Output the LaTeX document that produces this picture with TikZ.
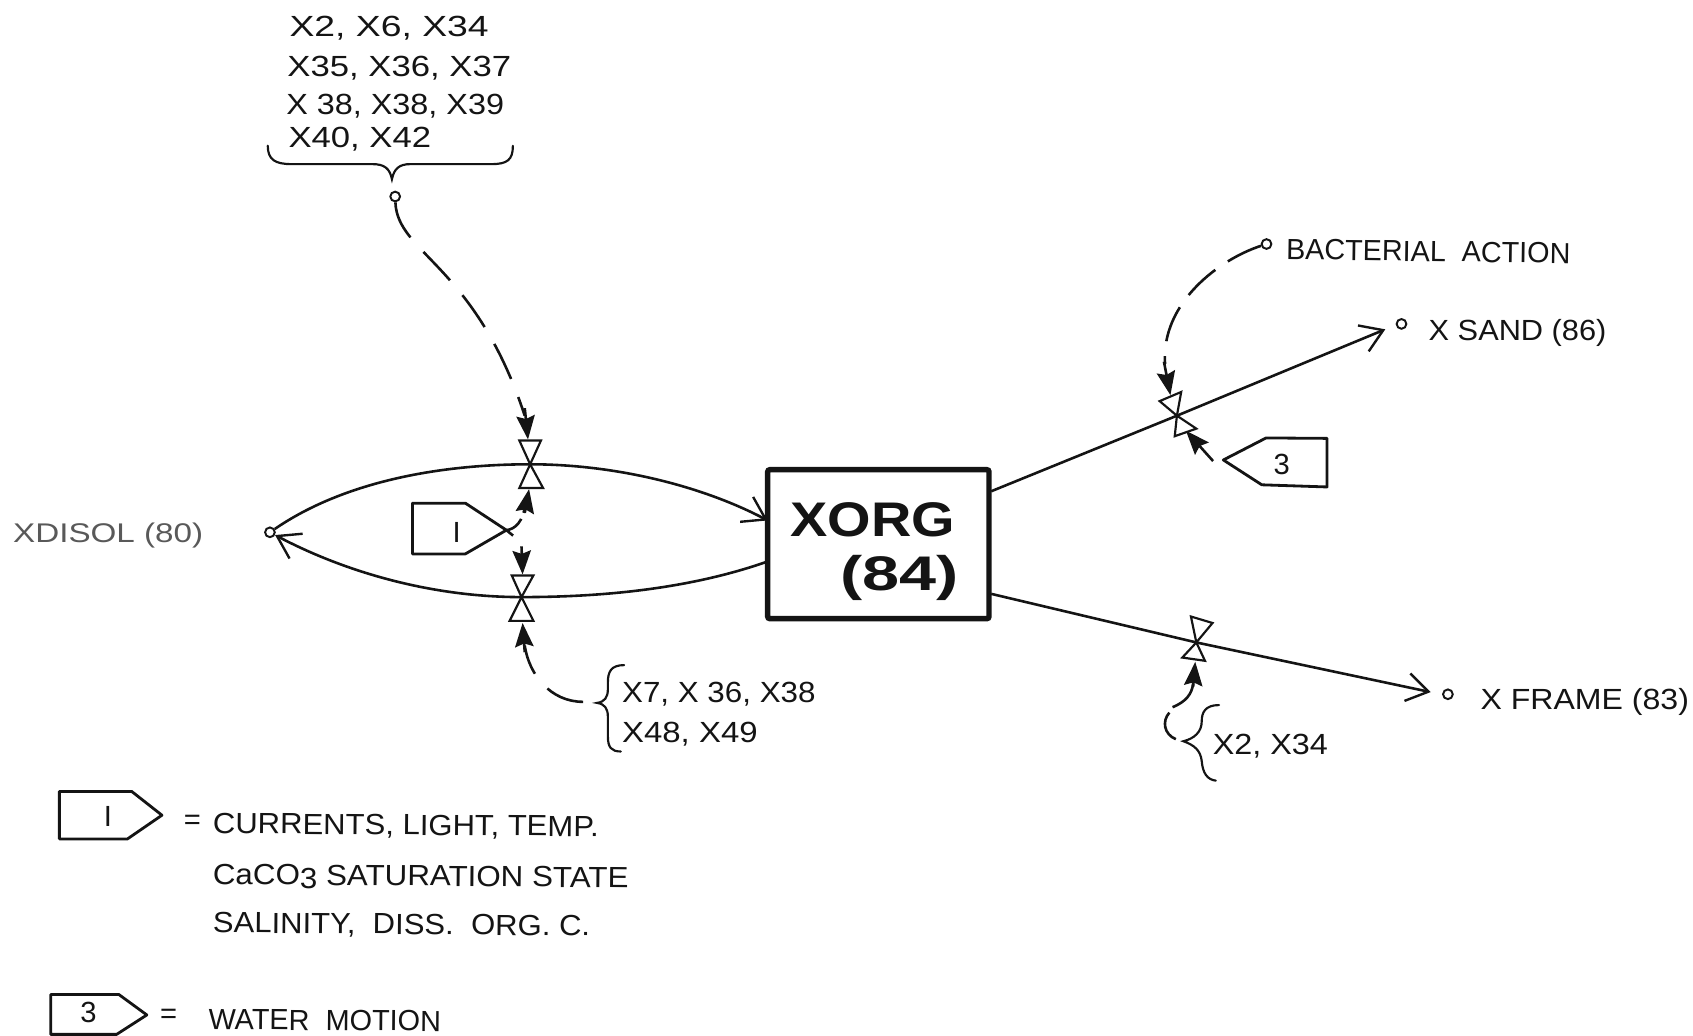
\documentclass[tikz,border=0pt]{standalone}
\usepackage{fontspec}
\setmainfont{Liberation Sans}
\usetikzlibrary{arrows.meta}
\definecolor{ink}{gray}{0.08}
\newcommand{\sx}[2]{\scalebox{#1}[1]{#2}}
\tikzset{
  wire/.style={draw=ink,line width=2.4pt},
  barb/.style={wire,-{Straight Barb[length=20pt,width=26pt,line width=2.2pt]}},
  ctrl/.style={draw=ink,line width=2.4pt,-{Stealth[length=22pt,width=17pt,inset=3pt]}},
  dashy/.style={dash pattern=on 36pt off 18pt},
  valve/.style={draw=ink,line width=2pt,fill=white,line join=miter},
  tagbox/.style={draw=ink,line width=2.6pt,fill=white,line join=round},
  term/.style={circle,draw=ink,line width=1.8pt,fill=white,inner sep=0pt,minimum size=9pt},
  lab/.style={anchor=west,inner sep=0pt,text=ink,font=\fontsize{27}{32}\selectfont},
  taglab/.style={inner sep=0pt,text=ink,font=\fontsize{27}{32}\selectfont},
  bigbox/.style={draw=ink,line width=5pt,rounded corners=2pt,fill=white,minimum width=205pt,minimum height=138pt,inner sep=0pt},
  boxlab/.style={anchor=west,inner sep=0pt,text=ink,font=\fontsize{45}{56}\selectfont\bfseries},
  brace/.style={draw=ink,line width=2pt,line cap=round}
}
\begin{document}
\begin{tikzpicture}[x=1pt,y=-1pt]
\useasboundingbox (0,0) rectangle (1568,959);
% labels
\node[lab] (a1) at (268,26) {\sx{1.28}{X2, X6, X34}};
\node[lab] (a2) at (266,63) {\sx{1.19}{X35, X36, X37}};
\node[lab] (a3) at (265,98) {\sx{1.11}{X 38, X38, X39}};
\node[lab] (a4) at (267,129) {\sx{1.19}{X40, X42}};
\node[lab,text=black!65,font=\fontsize{25}{30}\selectfont] (xd) at (12,496) {\sx{1.23}{XDISOL (80)}};
\node[lab,rotate=-0.8] (bact) at (1191,231) {\sx{0.986}{BACTERIAL\ \ ACTION}};
\node[lab] (xs) at (1323,308) {\sx{1.055}{X SAND (86)}};
\node[lab] (xf) at (1371,650) {\sx{1.10}{X FRAME (83)}};
\node[lab] (b1) at (576,643) {\sx{1.075}{X7, X 36, X38}};
\node[lab] (b2) at (576,680) {\sx{1.13}{X48, X49}};
\node[lab] (c1) at (1123,691) {\sx{1.11}{X2, X34}};
\node[lab] (l0) at (170,762) {=};
\node[lab,rotate=-0.5] (l1) at (197,764) {\sx{1.065}{CURRENTS, LIGHT, TEMP.}};
\node[lab,rotate=-0.5] (l2) at (197,811) {\sx{1.075}{CaCO{\raisebox{-3pt}{3}} SATURATION STATE}};
\node[lab,rotate=-0.5] (l3) at (197,856) {\sx{1.065}{SALINITY,\ \ DISS.\ \ ORG. C.}};
\node[lab] (l4) at (148,941) {=};
\node[lab,rotate=-0.5] (l5) at (193,944) {\sx{0.99}{WATER\ \ MOTION}};
% main box
\node[bigbox] (box) at (813.5,504) {};
\node[boxlab] (bx1) at (732,481) {\sx{1.15}{XORG}};
\node[boxlab] (bx2) at (778,535) {\sx{1.37}{(84)}};
% terminals
\node[term] (tA) at (366,182) {};
\node[term] (tD) at (250,493) {};
\node[term] (tB) at (1173,226) {};
\node[term] (tS) at (1298,300) {};
\node[term] (tF) at (1341,643) {};
% anchors
\coordinate (vU) at (491,430);
\coordinate (vL) at (483,553);
\coordinate (vS) at (1090,385);
\coordinate (vF) at (1108,595);
\coordinate (boxIn) at (711,482);
\coordinate (boxOut) at (711,520);
\coordinate (boxS) at (918,455);
\coordinate (boxF) at (918,550);
\coordinate (tagOne) at (469,491);
\coordinate (tagThree) at (1133,426);
\coordinate (brB) at (540,650);
% flows
\draw[barb] (tD) .. controls (320,445) and (410,430) .. (vU) .. controls (570,430) and (650,450) .. (boxIn);
\draw[barb] (boxOut) .. controls (640,545) and (560,553) .. (vL) .. controls (400,553) and (320,530) .. (tD);
\draw[barb] (boxS) -- (vS) -- (1283,305);
\draw[barb] (boxF) -- (vF) -- (1325,641);
% valves
\draw[valve] (vU) -- (481,408) -- (501,408) -- cycle;
\draw[valve] (vU) -- (481,452) -- (503,452) -- cycle;
\draw[valve] (vL) -- (474,533) -- (494,533) -- cycle;
\draw[valve] (vL) -- (472,575) -- (494,575) -- cycle;
\draw[valve] (vS) -- (1074,371.5) -- (1094,363) -- cycle;
\draw[valve] (vS) -- (1088,404) -- (1108,397) -- cycle;
\draw[valve] (vF) -- (1103,571) -- (1123,577) -- cycle;
\draw[valve] (vF) -- (1095,609) -- (1116,612) -- cycle;
% control lines
\draw[wire,dashy] (tA) .. controls (368,235) and (440,245) .. (486,385);
\draw[ctrl] (486,378) -- (489,407);
\draw[wire,dash pattern=on 18pt off 6pt] (tagOne) .. controls (478,490) and (484,482) .. (486,470);
\draw[ctrl] (486,475) -- (490,453);
\draw[wire,dash pattern=on 8pt off 8pt] (tagOne) -- (480,500);
\draw[ctrl] (483,506) -- (484,532);
\draw[wire,dashy] (brB) .. controls (510,650) and (490,625) .. (486,598);
\draw[ctrl] (486,604) -- (484,577);
\draw[wire,dash pattern=on 34pt off 14pt] (tB) .. controls (1130,240) and (1075,280) .. (1079,337);
\draw[ctrl] (1078,335) -- (1084,366);
\draw[ctrl] (1123.5,427) -- (1098.4,399);
\draw[ctrl] (1105,636) -- (1107,613);
\draw[wire] (1105,633) .. controls (1104,643) and (1098,650) .. (1086,655);
\draw[wire] (1083,660) .. controls (1076,668) and (1078,680) .. (1089,684.6);
% braces
\draw[brace] (248,135) .. controls (248,148) and (255,152) .. (270,152) -- (345,152) .. controls (356,152) and (361,156) .. (363,166)
  .. controls (365,156) and (370,152) .. (380,152) -- (455,152) .. controls (470,152) and (475,148) .. (475,135);
\draw[brace] (578,616) .. controls (566,616) and (563,622) .. (563,632) -- (563,638) .. controls (563,646) and (560,650) .. (553,651)
  .. controls (560,652) and (563,656) .. (563,664) -- (563,682) .. controls (563,692) and (566,696) .. (575,696);
\draw[brace] (1129,653) .. controls (1116,653) and (1113,660) .. (1113,668) .. controls (1113,678) and (1106,684) .. (1096,686.5)
  .. controls (1106,690) and (1112,695) .. (1113,705) .. controls (1114,716) and (1118,722) .. (1126,723);
% tags
\draw[tagbox] (382,466) -- (431,466) -- (469,491) -- (431,513) -- (382,513) -- cycle;
\node[taglab] (n1) at (423,493) {I};
\draw[tagbox] (1133,426) -- (1172.6,405.6) -- (1229,406) -- (1229,451) -- (1168.6,449) -- cycle;
\node[taglab] (n3) at (1187,430) {3};
\draw[tagbox] (55,733) -- (122,733) -- (150,755) -- (118,777) -- (55,777) -- cycle;
\node[taglab] (n1b) at (100,756) {I};
\draw[tagbox] (47,921) -- (110,921) -- (136,940) -- (108,958) -- (47,958) -- cycle;
\node[taglab] (n3b) at (82,938) {3};
\end{tikzpicture}
\end{document}
